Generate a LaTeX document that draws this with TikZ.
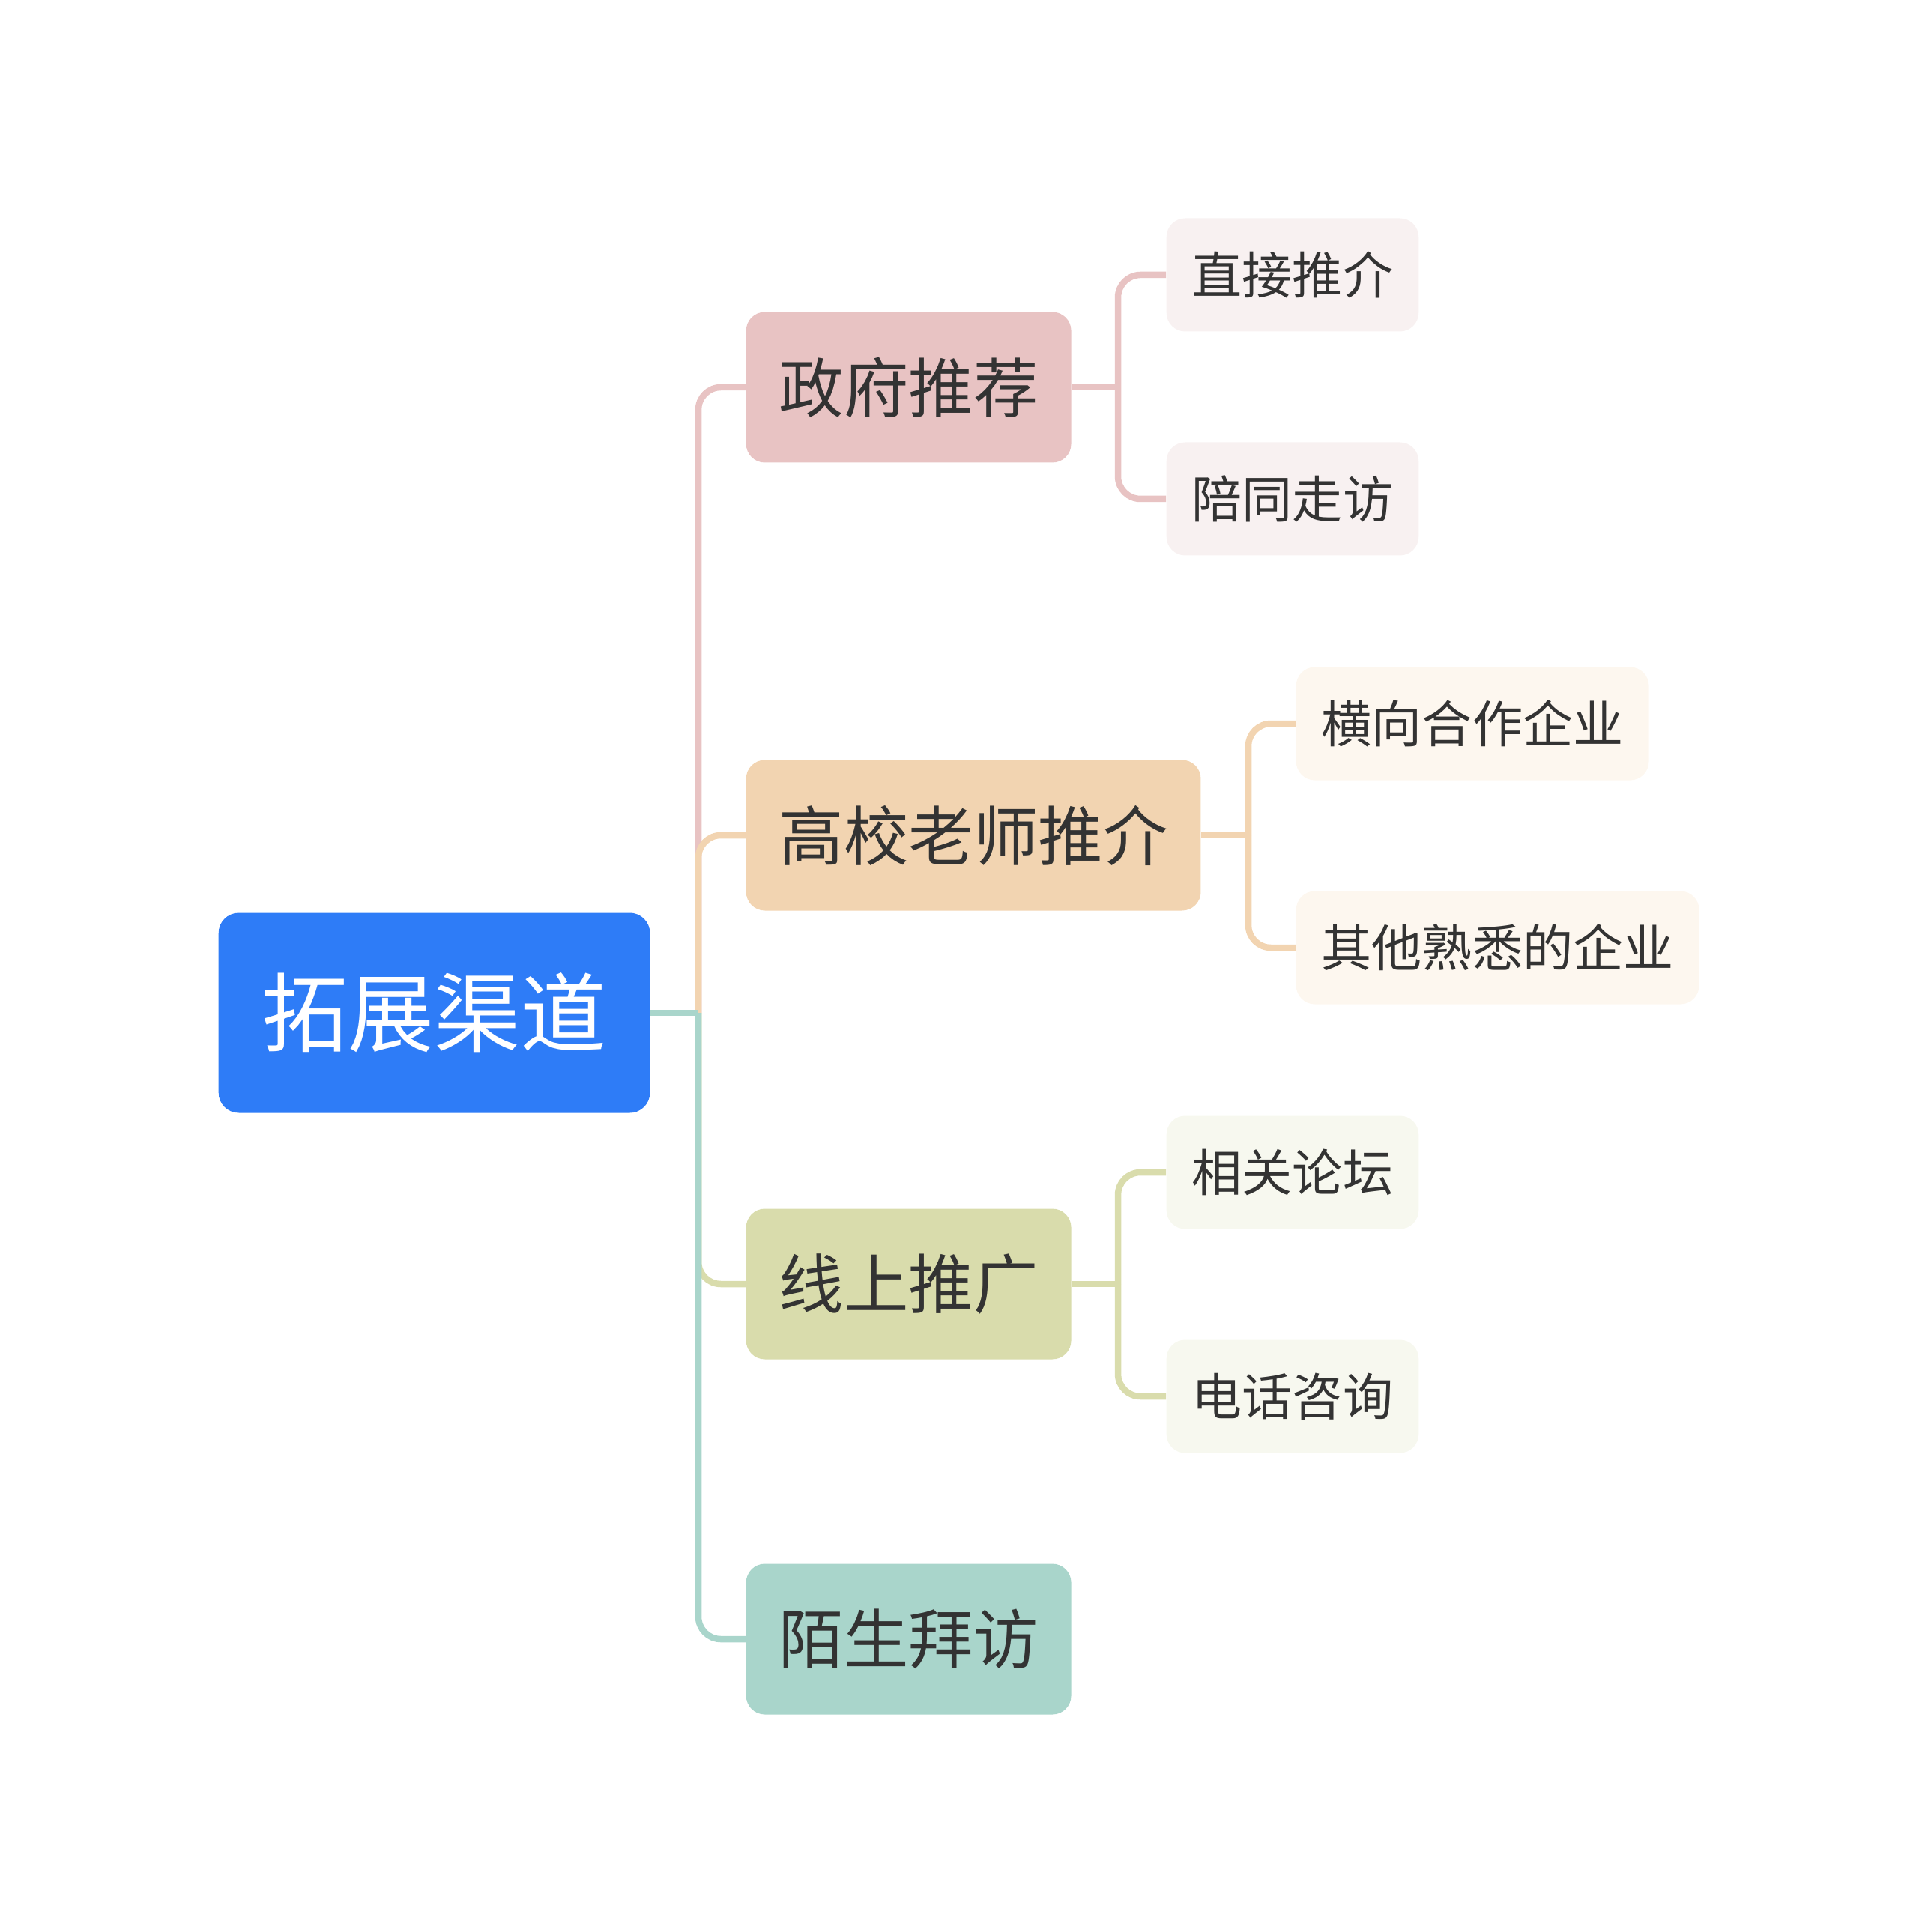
\documentclass[tikz,border=0pt]{standalone}
\usepackage{fontspec}
\setmainfont{Noto Sans CJK SC}
\usetikzlibrary{shapes}
\definecolor{rootblue}{RGB}{46,124,247}
\definecolor{txtgray}{RGB}{51,51,51}
\definecolor{govpink}{RGB}{232,195,195}
\definecolor{edusand}{RGB}{242,212,177}
\definecolor{webolive}{RGB}{217,220,172}
\definecolor{visitteal}{RGB}{169,213,203}
\definecolor{govpinklight}{RGB}{248,241,241}
\definecolor{edusandlight}{RGB}{253,247,239}
\definecolor{webolivelight}{RGB}{247,248,239}
\tikzstyle{box-root}=[anchor=west, fill=rootblue, text=white, rounded corners=0.27cm, minimum height=2.67cm, inner xsep=0.58cm, inner ysep=0pt, font=\fontsize{32.7}{36}\selectfont]
\tikzstyle{box-main}=[anchor=west, text=txtgray, rounded corners=0.25cm, minimum height=2.01cm, inner xsep=0.44cm, inner ysep=0pt, font=\fontsize{24.6}{28}\selectfont]
\tikzstyle{box-leaf}=[anchor=west, text=txtgray, rounded corners=0.25cm, minimum height=1.51cm, inner xsep=0.34cm, inner ysep=0pt, font=\fontsize{19.1}{22}\selectfont]
\tikzstyle{link}=[line width=0.085cm, rounded corners=0.3cm]

\begin{document}
\begin{tikzpicture}
	\useasboundingbox (0,0) rectangle (25.6,-25.79);
	% nodes
	 \node [box-root] (a) at (2.91,-13.52) {拓展渠道};
	 \node [box-main, fill=govpink] (b) at (9.95,-5.17) {政府推荐};
	 \node [box-main, fill=edusand] (c) at (9.95,-11.15) {高校老师推介};
	 \node [box-main, fill=webolive] (d) at (9.95,-17.14) {线上推广};
	 \node [box-main, fill=visitteal] (e) at (9.95,-21.88) {陌生拜访};
	 
	 \node [box-leaf, fill=govpinklight] (f) at (15.56,-3.67) {直接推介};
	 \node [box-leaf, fill=govpinklight] (g) at (15.56,-6.66) {陪同走访};
	 \node [box-leaf, fill=edusandlight] (h) at (17.29,-9.66) {横向合作企业};
	 \node [box-leaf, fill=edusandlight] (i) at (17.29,-12.65) {其他熟悉的企业};
	 \node [box-leaf, fill=webolivelight] (k) at (15.56,-15.65) {相关论坛};
	 \node [box-leaf, fill=webolivelight] (l) at (15.56,-18.64) {电话咨询};
	 
	 \coordinate (j) at (9.32,-13.52);
	 \coordinate (jb) at (14.92,-5.17);
	 \coordinate (jc) at (16.66,-11.15);
	 \coordinate (jd) at (14.92,-17.14);
	 
	 % links
	 \draw [link, govpink] (j) |- (b.west);
	 \draw [link, edusand] (j) |- (c.west);
	 \draw [link, webolive] (j) |- (d.west);
	 \draw [link, visitteal] (j) |- (e.west);
	 \draw [link, visitteal] (a.east) -- (j);
	 
	 \draw [link, govpink] (b.east) -- (jb);
	 \draw [link, govpink] (jb) |- (f.west);
	 \draw [link, govpink] (jb) |- (g.west);
	 
	 \draw [link, edusand] (c.east) -- (jc);
	 \draw [link, edusand] (jc) |- (h.west);
	 \draw [link, edusand] (jc) |- (i.west);
	 
	 \draw [link, webolive] (d.east) -- (jd);
	 \draw [link, webolive] (jd) |- (k.west);
	 \draw [link, webolive] (jd) |- (l.west);
\end{tikzpicture}
\end{document}
